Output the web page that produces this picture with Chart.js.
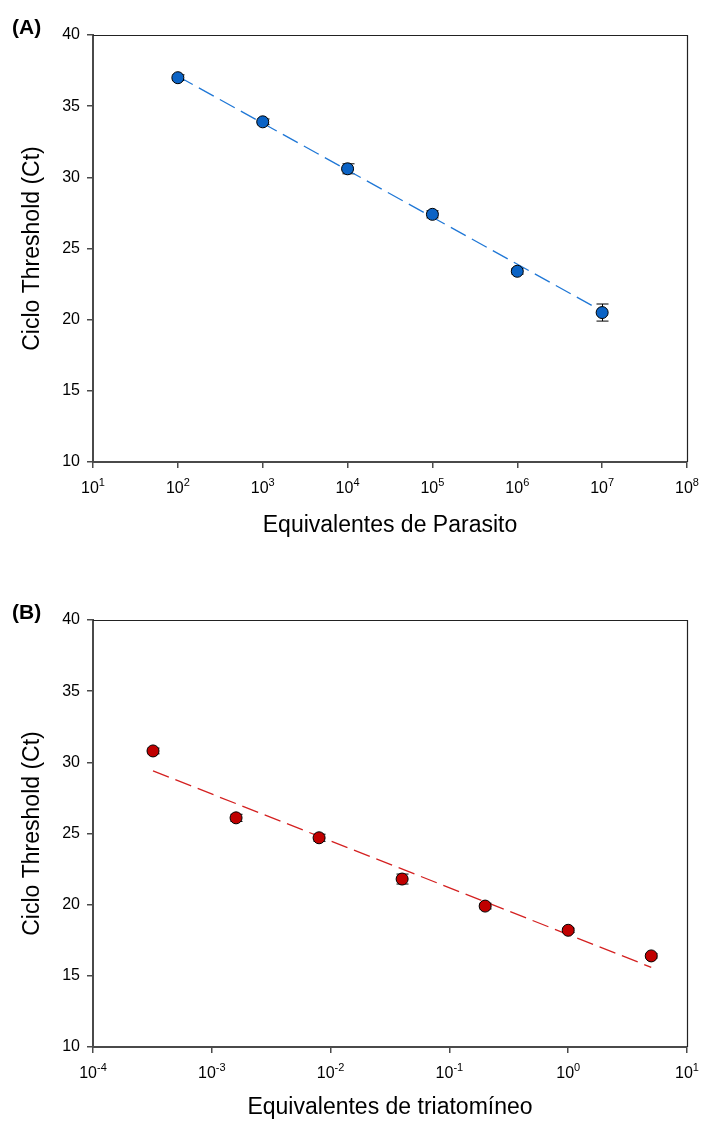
<!DOCTYPE html>
<html>
<head>
<meta charset="utf-8">
<script src="https://cdn.jsdelivr.net/npm/chart.js@4"></script>
<style>
  html, body { margin: 0; padding: 0; background: #fff; }
  .panel { position: absolute; left: 0; width: 702px; }
</style>
</head>
<body>
<div class="panel" style="top:0;height:560px"><canvas id="chartA" width="702" height="560"></canvas></div>
<div class="panel" style="top:560px;height:561px"><canvas id="chartB" width="702" height="561"></canvas></div>
<script>
// panel A - parasite equivalents
const parasitos = [1e2, 1e3, 1e4, 1e5, 1e6, 1e7];
const ctA = [37.0, 33.9, 30.6, 27.4, 23.4, 20.5];
const errA = [0.2, 0.2, 0.35, 0.25, 0.2, 0.6];
const fitXA = [1e2, 1e7];
const fitYA = [37.1, 20.6];
const expA = [1, 2, 3, 4, 5, 6, 7, 8];

// panel B - triatomine equivalents
const triatominos = [3.2e-4, 1.6e-3, 8e-3, 0.04, 0.2, 1, 5];
const ctB = [30.8, 26.1, 24.7, 21.8, 19.9, 18.2, 16.4];
const errB = [0.2, 0.25, 0.25, 0.35, 0.2, 0.15, 0.15];
const fitXB = [3.2e-4, 5];
const fitYB = [29.4, 15.6];
const expB = [-4, -3, -2, -1, 0, 1];

const yTicks = [10, 15, 20, 25, 30, 35, 40];

const FONT = '"Liberation Sans", Arial, Helvetica, sans-serif';
const axisColor = '#4a4a4a';

const toPts = (xs, ys) => xs.map((x, i) => ({ x: x, y: ys[i] }));

// error bars, panel letter, top/right frame and 10^n labels
const extras = {
    id: 'extras',
    beforeDatasetsDraw(chart, args, opts) {
        const { ctx, scales: { x, y } } = chart;
        ctx.save();
        ctx.strokeStyle = '#000';
        ctx.lineWidth = 1;
        opts.xs.forEach((v, i) => {
            const px = Math.round(x.getPixelForValue(v)) + 0.5;
            const hi = y.getPixelForValue(opts.ys[i] + opts.err[i]);
            const lo = y.getPixelForValue(opts.ys[i] - opts.err[i]);
            ctx.beginPath();
            ctx.moveTo(px, hi); ctx.lineTo(px, lo);
            ctx.moveTo(px - 6, hi); ctx.lineTo(px + 6, hi);
            ctx.moveTo(px - 6, lo); ctx.lineTo(px + 6, lo);
            ctx.stroke();
        });
        ctx.restore();
    },
    afterDraw(chart, args, opts) {
        const { ctx, chartArea: { top, bottom, left, right }, scales: { x } } = chart;
        ctx.save();
        ctx.strokeStyle = '#222';
        ctx.lineWidth = 1.2;
        ctx.beginPath();
        ctx.moveTo(left, top + 0.5);
        ctx.lineTo(right + 0.5, top + 0.5);
        ctx.lineTo(right + 0.5, bottom);
        ctx.stroke();

        ctx.fillStyle = '#000';
        ctx.textBaseline = 'alphabetic';
        opts.exps.forEach(e => {
            const px = x.getPixelForValue(Math.pow(10, e));
            ctx.font = '16px ' + FONT;
            const wb = ctx.measureText('10').width;
            ctx.font = '11px ' + FONT;
            const we = ctx.measureText(String(e)).width;
            const x0 = px - (wb + we) / 2;
            ctx.font = '16px ' + FONT;
            ctx.textAlign = 'left';
            ctx.fillText('10', x0, bottom + 31);
            ctx.font = '11px ' + FONT;
            ctx.fillText(String(e), x0 + wb, bottom + 24);
        });

        ctx.font = 'bold 21px ' + FONT;
        ctx.textAlign = 'left';
        ctx.textBaseline = 'middle';
        ctx.fillText(opts.letter, 12, top - 7);
        ctx.restore();
    }
};

function makeChart(id, cfg) {
    return new Chart(document.getElementById(id).getContext('2d'), {
        type: 'scatter',
        data: {
            datasets: [{
                data: toPts(cfg.xs, cfg.ys),
                pointRadius: 6,
                pointHoverRadius: 6,
                pointBackgroundColor: cfg.fill,
                pointBorderColor: '#000',
                pointBorderWidth: 1
            }, {
                data: toPts(cfg.fitX, cfg.fitY),
                showLine: true,
                pointRadius: 0,
                borderColor: cfg.lineColor,
                borderWidth: 1.3,
                borderDash: [17, 7]
            }]
        },
        options: {
            responsive: false,
            animation: false,
            events: [],
            layout: { padding: { top: cfg.padTop, right: 15, left: 0, bottom: 0 } },
            plugins: {
                legend: { display: false },
                tooltip: { enabled: false },
                extras: { xs: cfg.xs, ys: cfg.ys, err: cfg.err, exps: cfg.exps, letter: cfg.letter }
            },
            scales: {
                x: {
                    type: 'logarithmic',
                    min: Math.pow(10, cfg.exps[0]),
                    max: Math.pow(10, cfg.exps[cfg.exps.length - 1]),
                    afterBuildTicks: s => { s.ticks = cfg.exps.map(e => ({ value: Math.pow(10, e) })); },
                    afterFit: s => { s.height = cfg.xHeight; },
                    ticks: { display: false },
                    grid: { drawOnChartArea: false, tickLength: 6, color: axisColor, lineWidth: 1.5 },
                    border: { color: axisColor, width: 2 },
                    title: {
                        display: true,
                        text: cfg.xTitle,
                        color: '#000',
                        font: { family: FONT, size: 23 },
                        padding: { top: 0, bottom: cfg.xTitlePad }
                    }
                },
                y: {
                    min: 10,
                    max: 40,
                    afterBuildTicks: s => { s.ticks = yTicks.map(v => ({ value: v })); },
                    afterFit: s => { s.width = 93; },
                    ticks: { color: '#000', padding: 7, font: { family: FONT, size: 16 } },
                    grid: { drawOnChartArea: false, tickLength: 6, color: axisColor, lineWidth: 1.5 },
                    border: { color: axisColor, width: 2 },
                    title: {
                        display: true,
                        text: 'Ciclo Threshold (Ct)',
                        color: '#000',
                        font: { family: FONT, size: 23 },
                        padding: { top: 19, bottom: 0 }
                    }
                }
            }
        },
        plugins: [extras]
    });
}

makeChart('chartA', {
    xs: parasitos, ys: ctA, err: errA, fitX: fitXA, fitY: fitYA, exps: expA,
    fill: '#0b63c5', lineColor: '#1f77d6', letter: '(A)',
    padTop: 35, xHeight: 98, xTitle: 'Equivalentes de Parasito', xTitlePad: 21
});

makeChart('chartB', {
    xs: triatominos, ys: ctB, err: errB, fitX: fitXB, fitY: fitYB, exps: expB,
    fill: '#c00000', lineColor: '#d42020', letter: '(B)',
    padTop: 60, xHeight: 74, xTitle: 'Equivalentes de triatomíneo', xTitlePad: 0
});
</script>
</body>
</html>
